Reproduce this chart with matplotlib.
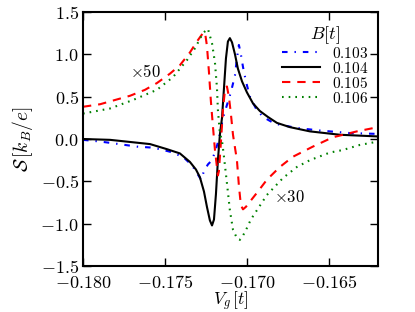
"""
Thermopower S vs gate voltage V_g for several magnetic fields B.
Output: out.png
"""

import matplotlib
matplotlib.use("Agg")
import matplotlib.pyplot as plt
from matplotlib.ticker import FuncFormatter

plt.rcParams["mathtext.fontset"] = "cm"
plt.rcParams["font.family"] = "serif"
plt.rcParams["lines.scale_dashes"] = False

# -------------------------------------------------------------------
# Data
# -------------------------------------------------------------------
fields = ["0.103", "0.104", "0.105", "0.106"]

vg_103 = [-0.18000, -0.17896, -0.17817, -0.17671, -0.17591, -0.17530, -0.17470,
          -0.17390, -0.17335, -0.17305, -0.17280, -0.17262, -0.17238, -0.17213,
          -0.17189, -0.17171, -0.17146, -0.17122, -0.17098, -0.17073, -0.17061,
          -0.17049, -0.17037, -0.17024, -0.17006, -0.16982, -0.16945, -0.16902,
          -0.16829, -0.16695, -0.16555, -0.16372, -0.16200]
s_103 = [-0.01, -0.03, -0.05, -0.09, -0.10, -0.12, -0.15, -0.21, -0.31, -0.40,
         -0.48, -0.38, -0.30, -0.25, -0.12, 0.0, 0.25, 0.40, 0.55, 0.75, 0.95,
         1.11, 1.0, 0.85, 0.68, 0.50, 0.36, 0.26, 0.18, 0.13, 0.10, 0.07, 0.06]

vg_104 = [-0.18000, -0.17835, -0.17713, -0.17591, -0.17488, -0.17409, -0.17348,
          -0.17311, -0.17287, -0.17262, -0.17244, -0.17226, -0.17213, -0.17201,
          -0.17189, -0.17177, -0.17165, -0.17152, -0.17140, -0.17128, -0.17116,
          -0.17104, -0.17091, -0.17073, -0.17055, -0.17030, -0.17000, -0.16963,
          -0.16921, -0.16872, -0.16817, -0.16738, -0.16616, -0.16433, -0.16200]
s_104 = [0.0, -0.01, -0.035, -0.06, -0.12, -0.17, -0.27, -0.36, -0.45, -0.62,
         -0.80, -0.96, -1.02, -0.95, -0.65, -0.25, 0.05, 0.25, 0.6, 0.95,
         1.15, 1.19, 1.14, 1.0, 0.83, 0.68, 0.55, 0.42, 0.33, 0.26,
         0.19, 0.14, 0.09, 0.05, 0.03]

vg_105 = [-0.18000, -0.17896, -0.17805, -0.17713, -0.17622, -0.17549, -0.17470,
          -0.17409, -0.17348, -0.17305, -0.17268, -0.17256, -0.17244, -0.17232,
          -0.17220, -0.17207, -0.17195, -0.17183, -0.17177, -0.17171, -0.17159,
          -0.17146, -0.17134, -0.17122, -0.17110, -0.17098, -0.17085, -0.17073,
          -0.17061, -0.17049, -0.17037, -0.17024, -0.17006, -0.16982, -0.16933,
          -0.16878, -0.16799, -0.16720, -0.16598, -0.16476, -0.16329, -0.16200]
s_105 = [0.38, 0.41, 0.46, 0.51, 0.58, 0.66, 0.77, 0.87, 1.02, 1.15,
         1.25, 1.26, 1.10, 0.80, 0.45, 0.14, -0.13, -0.33, -0.43, -0.38,
         -0.05, 0.35, 0.58, 0.62, 0.50, 0.30, 0.05, -0.10, -0.25, -0.55,
         -0.78, -0.83, -0.80, -0.74, -0.62, -0.48, -0.33, -0.21, -0.09, 0.02,
         0.09, 0.14]

vg_106 = [-0.18000, -0.17835, -0.17695, -0.17549, -0.17451, -0.17366, -0.17317,
          -0.17268, -0.17238, -0.17213, -0.17195, -0.17183, -0.17177, -0.17165,
          -0.17152, -0.17140, -0.17122, -0.17104, -0.17085, -0.17061, -0.17043,
          -0.17024, -0.17000, -0.16976, -0.16939, -0.16878, -0.16780, -0.16695,
          -0.16616, -0.16494, -0.16415, -0.16311, -0.16200]
s_106 = [0.30, 0.36, 0.46, 0.58, 0.73, 0.93, 1.07, 1.25, 1.30, 1.13,
         0.90, 0.61, 0.34, 0.07, -0.02, -0.21, -0.52, -0.84, -1.07, -1.17,
         -1.19, -1.14, -1.05, -0.95, -0.84, -0.66, -0.46, -0.33, -0.25, -0.16,
         -0.13, -0.07, -0.03]

# -------------------------------------------------------------------
# Plotting
# -------------------------------------------------------------------
fig = plt.figure(figsize=(4.15, 3.12), dpi=100)
ax = fig.add_axes([0.200, 0.147, 0.711, 0.815])

ax.plot(vg_103, s_103, color="b", lw=1.5, dashes=(4, 5, 1, 5),
        label=f"${fields[0]}$")
ax.plot(vg_104, s_104, color="k", lw=1.5, label=f"${fields[1]}$")
ax.plot(vg_105, s_105, color="r", lw=1.5, dashes=(6, 5),
        label=f"${fields[2]}$")
ax.plot(vg_106, s_106, color="g", lw=1.5, dashes=(1.2, 3.6),
        label=f"${fields[3]}$")

ax.text(-0.17622, 0.79, r"$\times 50$", ha="center", va="center", fontsize=12)
ax.text(-0.16738, -0.685, r"$\times 30$", ha="center", va="center", fontsize=12)

ax.set_xlim(-0.180, -0.162)
ax.set_ylim(-1.5, 1.5)
ax.set_xticks([-0.180, -0.175, -0.170, -0.165])
ax.set_yticks([-1.5, -1.0, -0.5, 0.0, 0.5, 1.0, 1.5])
ax.xaxis.set_major_formatter(FuncFormatter(lambda v, p: f"${v:.3f}$"))
ax.yaxis.set_major_formatter(FuncFormatter(lambda v, p: f"${v:.1f}$"))
ax.tick_params(direction="in", top=True, right=True, length=6, width=1,
               labelsize=13)
ax.tick_params(axis="x", pad=6)
ax.tick_params(axis="y", pad=3)
for sp in ax.spines.values():
    sp.set_linewidth(1.5)

ax.set_xlabel(r"$V_g\,[t]$", fontsize=12.5)
ax.xaxis.set_label_coords(0.5, -0.095)
ax.set_ylabel(r"$\mathcal{S}\,[k_B/e]$", fontsize=14, labelpad=4)

ax.legend(title=r"$B[t]$", title_fontsize=13, fontsize=11, frameon=False,
          loc="upper right", bbox_to_anchor=(1.005, 0.995),
          handlelength=2.5, labelspacing=0.0, borderaxespad=0.3,
          handletextpad=0.8)

fig.savefig("out.png", dpi=100)
plt.close(fig)
